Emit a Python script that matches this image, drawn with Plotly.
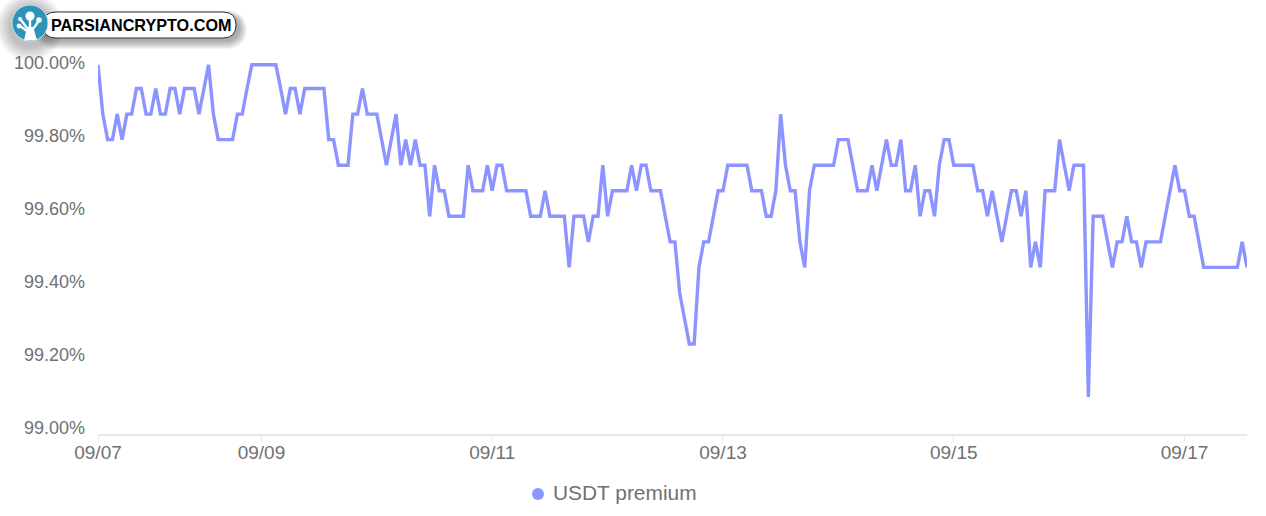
import pandas as pd
import plotly.graph_objects as go

SERIES_NAME = "USDT premium"
START_TIME = "2023-09-07 14:00"

# hourly premium readings, percent
premium = [
    99.995, 99.86, 99.79, 99.79, 99.86, 99.79, 99.86, 99.86, 99.93, 99.93,
    99.86, 99.86, 99.93, 99.86, 99.86, 99.93, 99.93, 99.86, 99.93, 99.93,
    99.93, 99.86, 99.93, 99.995, 99.86, 99.79, 99.79, 99.79, 99.79, 99.86,
    99.86, 99.93, 99.995, 99.995, 99.995, 99.995, 99.995, 99.995, 99.93, 99.86,
    99.93, 99.93, 99.86, 99.93, 99.93, 99.93, 99.93, 99.93, 99.79, 99.79,
    99.72, 99.72, 99.72, 99.86, 99.86, 99.93, 99.86, 99.86, 99.86, 99.79,
    99.72, 99.79, 99.86, 99.72, 99.79, 99.72, 99.79, 99.72, 99.72, 99.58,
    99.72, 99.65, 99.65, 99.58, 99.58, 99.58, 99.58, 99.72, 99.65, 99.65,
    99.65, 99.72, 99.65, 99.72, 99.72, 99.65, 99.65, 99.65, 99.65, 99.65,
    99.58, 99.58, 99.58, 99.65, 99.58, 99.58, 99.58, 99.58, 99.44, 99.58,
    99.58, 99.58, 99.51, 99.58, 99.58, 99.72, 99.58, 99.65, 99.65, 99.65,
    99.65, 99.72, 99.65, 99.72, 99.72, 99.65, 99.65, 99.65, 99.58, 99.51,
    99.51, 99.37, 99.30, 99.23, 99.23, 99.44, 99.51, 99.51, 99.58, 99.65,
    99.65, 99.72, 99.72, 99.72, 99.72, 99.72, 99.65, 99.65, 99.65, 99.58,
    99.58, 99.65, 99.86, 99.72, 99.65, 99.65, 99.51, 99.44, 99.65, 99.72,
    99.72, 99.72, 99.72, 99.72, 99.79, 99.79, 99.79, 99.72, 99.65, 99.65,
    99.65, 99.72, 99.65, 99.72, 99.79, 99.72, 99.72, 99.79, 99.65, 99.65,
    99.72, 99.58, 99.65, 99.65, 99.58, 99.72, 99.79, 99.79, 99.72, 99.72,
    99.72, 99.72, 99.72, 99.65, 99.65, 99.58, 99.65, 99.58, 99.51, 99.58,
    99.65, 99.65, 99.58, 99.65, 99.44, 99.51, 99.44, 99.65, 99.65, 99.65,
    99.79, 99.72, 99.65, 99.72, 99.72, 99.72, 99.085, 99.58, 99.58, 99.58,
    99.51, 99.44, 99.51, 99.51, 99.58, 99.51, 99.51, 99.44, 99.51, 99.51,
    99.51, 99.51, 99.58, 99.65, 99.72, 99.65, 99.65, 99.58, 99.58, 99.51,
    99.44, 99.44, 99.44, 99.44, 99.44, 99.44, 99.44, 99.44, 99.51, 99.44,
]
tick_dates = ["2023-09-07 14:00", "2023-09-09", "2023-09-11", "2023-09-13", "2023-09-15", "2023-09-17"]
tick_labels = ["09/07", "09/09", "09/11", "09/13", "09/15", "09/17"]
y_ticks = [99.0, 99.2, 99.4, 99.6, 99.8, 100.0]
y_labels = ["99.00%", "99.20%", "99.40%", "99.60%", "99.80%", "100.00%"]

hours = pd.date_range(START_TIME, periods=len(premium), freq="h")

LINE = "#8c94ff"
GREY = "#717171"
FONT = "Liberation Sans, Arial, sans-serif"

L, R, T, B = 98, 1247, 60, 434
px = lambda x: (x - L) / (R - L)
py = lambda y: (B - y) / (B - T)


def pill(x0, y0, x1, y1, r):
    a, b, c, d = px(x0), px(x1), py(y0), py(y1)
    rx, ry = r / (R - L), r / (B - T)
    return (f"M{a+rx},{c} L{b-rx},{c} Q{b},{c} {b},{c-ry} L{b},{d+ry} Q{b},{d} {b-rx},{d} "
            f"L{a+rx},{d} Q{a},{d} {a},{d+ry} L{a},{c-ry} Q{a},{c} {a+rx},{c} Z")


def circle(cx, cy, r, **kw):
    return dict(type="circle", xref="paper", yref="paper",
                x0=px(cx - r), x1=px(cx + r), y0=py(cy + r), y1=py(cy - r), **kw)


shapes = []
# soft drop shadow under the badge
for i in range(9, 0, -1):
    shapes.append(dict(type="path", xref="paper", yref="paper",
                       path=pill(44 - i * 1.1, 16 - i * 0.6, 238 + i * 1.0, 40 + i * 1.0, 13 + i),
                       fillcolor="rgba(60,60,60,0.055)", line_width=0))
    shapes.append(circle(30, 27, 19 + i * 1.6, fillcolor="rgba(60,60,60,0.045)", line_width=0))
shapes.append(dict(type="path", xref="paper", yref="paper", path=pill(43, 12, 236, 38, 13),
                   fillcolor="white", line=dict(color="#333333", width=1)))
shapes.append(circle(30, 23, 18, fillcolor="#2c93b9", line=dict(color="#cfdfe6", width=1)))
# emblem
for cx, cy, r in [(30, 16, 4.6), (20, 19, 2), (19, 26, 2.4), (39, 20, 2.8)]:
    shapes.append(circle(cx, cy, r, fillcolor="white", line_width=0))
for x0, y0, x1, y1 in [(30, 20, 30, 34), (21, 20, 27, 28), (20, 26, 27, 31), (38, 22, 33, 29)]:
    shapes.append(dict(type="line", xref="paper", yref="paper", x0=px(x0), y0=py(y0),
                       x1=px(x1), y1=py(y1), line=dict(color="white", width=2.4)))
shapes.append(dict(type="path", xref="paper", yref="paper", line_width=0, fillcolor="white",
                   path=f"M{px(24)},{py(40.5)} L{px(27)},{py(27)} L{px(33)},{py(27)} L{px(37)},{py(40)} Z"))
# legend dot
shapes.append(circle(538, 494, 6, fillcolor=LINE, line_width=0))

fig = go.Figure()
fig.add_trace(go.Scatter(x=hours, y=premium, mode="lines", name=SERIES_NAME, showlegend=False,
                         hoverinfo="skip", line=dict(color=LINE, width=3.4, shape="linear"),
                         cliponaxis=False))

fig.update_layout(
    width=1266, height=516, autosize=False,
    margin=dict(l=L, r=1266 - R, t=T, b=516 - B, pad=0),
    paper_bgcolor="white", plot_bgcolor="white",
    font=dict(family=FONT, color=GREY),
    showlegend=False,
    shapes=shapes,
    annotations=[
        dict(text="<b>PARSIANCRYPTO.COM</b>", xref="paper", yref="paper",
             x=px(140.5), y=py(25.5), showarrow=False, xanchor="center", yanchor="middle",
             font=dict(family=FONT, size=16.2, color="black")),
        dict(text=SERIES_NAME, xref="paper", yref="paper", x=px(552), y=py(492.5),
             showarrow=False, xanchor="left", yanchor="middle", xshift=-1,
             font=dict(family=FONT, size=20.9, color=GREY)),
    ],
    xaxis=dict(type="date", range=[hours[0], hours[-1]], tickmode="array",
               tickvals=tick_dates, ticktext=tick_labels, showgrid=False, zeroline=False,
               showline=True, linecolor="#e9e9e9", linewidth=2,
               ticks="outside", ticklen=6, tickwidth=1, tickcolor="#e9e9e9",
               ticklabelstandoff=-6,
               tickfont=dict(size=19, color=GREY, family=FONT)),
    yaxis=dict(range=[99 - 6 / 365, 100 + 3 / 365], tickmode="array", tickvals=y_ticks,
               ticktext=y_labels, showgrid=False, zeroline=False, showline=False,
               ticks="", ticklabelstandoff=12, tickfont=dict(size=18, color=GREY, family=FONT)),
)

fig.write_html("out.html", config={"displayModeBar": False},
               post_script="document.body.style.margin='0';")
